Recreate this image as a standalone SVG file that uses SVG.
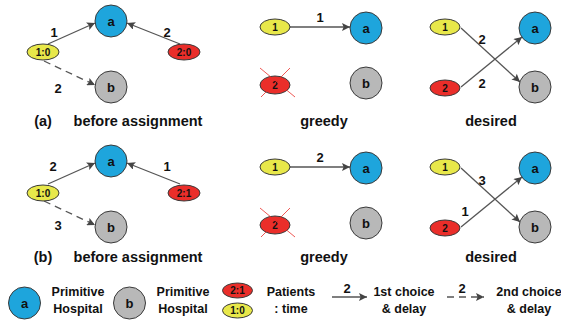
<svg xmlns="http://www.w3.org/2000/svg" width="561" height="324" viewBox="0 0 561 324">
<style>
text{font-family:"Liberation Sans",Arial,sans-serif;font-weight:bold;fill:#111;text-anchor:middle}
.na{fill:#1EA5DC;stroke:#3a3a3a;stroke-width:1}
.nb{fill:#B8B8B8;stroke:#3a3a3a;stroke-width:1}
.py{fill:#E8E84A;stroke:#3a3a3a;stroke-width:1}
.pr{fill:#EA2E2A;stroke:#3a3a3a;stroke-width:1}
.nl{font-size:13px}
.pl{font-size:10px}
.el{font-size:13px}
.cap{font-size:14.5px}
.lg{font-size:12.5px}
.e{stroke:#555;stroke-width:1.3;fill:none;marker-end:url(#ah)}
.d{stroke-dasharray:7,5}
.x{stroke:#EA2E2A;stroke-width:0.8}
</style>
<defs>
<marker id="ah" viewBox="0 0 10 10" refX="10" refY="5" markerWidth="9" markerHeight="8" markerUnits="userSpaceOnUse" orient="auto">
<path d="M0,0 L10,5 L0,10 L2,5 z" fill="#444"/>
</marker>
</defs>
<g id="connectors">
<line class="e" x1="48" y1="44" x2="95" y2="23"/>
<line class="e" x1="180" y1="44" x2="127" y2="23"/>
<line class="e d" x1="44" y1="61" x2="95" y2="85"/>
<line class="e" x1="290" y1="27" x2="350" y2="27"/>
<line class="e" x1="461" y1="28" x2="520" y2="82"/>
<line class="e" x1="461" y1="87" x2="522" y2="37"/>
<line class="e" x1="48" y1="184" x2="95" y2="163"/>
<line class="e" x1="180" y1="184" x2="127" y2="163"/>
<line class="e d" x1="44" y1="201" x2="95" y2="225"/>
<line class="e" x1="290" y1="167" x2="350" y2="167"/>
<line class="e" x1="461" y1="168" x2="520" y2="222"/>
<line class="e" x1="461" y1="227" x2="522" y2="177"/>
<line class="e" x1="332" y1="297" x2="367" y2="297"/>
<line class="e d" x1="447" y1="297" x2="484" y2="297"/>
</g>
<g id="edge-labels">
<text class="el" x="54" y="37">1</text>
<text class="el" x="167" y="37">2</text>
<text class="el" x="58" y="93">2</text>
<text class="el" x="320" y="22">1</text>
<text class="el" x="482" y="44">2</text>
<text class="el" x="482" y="88">2</text>
<text class="el" x="53" y="171">2</text>
<text class="el" x="167" y="171">1</text>
<text class="el" x="58" y="230">3</text>
<text class="el" x="320" y="162">2</text>
<text class="el" x="482" y="185">3</text>
<text class="el" x="465" y="216">1</text>
<text class="el" x="347" y="293">2</text>
<text class="el" x="462" y="293">2</text>
</g>
<g id="a-row-a"><circle class="na" cx="111" cy="21" r="16"/><text class="nl" x="111" y="25.5">a</text></g>
<g id="b-row-a"><circle class="nb" cx="111" cy="87" r="16"/><text class="nl" x="111" y="91.5">b</text></g>
<g id="p1-row-a"><ellipse class="py" cx="43" cy="52" rx="16" ry="8"/><text class="pl" x="43" y="55.5">1:0</text></g>
<g id="p2-row-a"><ellipse class="pr" cx="184" cy="52" rx="16" ry="8"/><text class="pl" x="184" y="55.5">2:0</text></g>
<g id="greedy-a-row-a"><circle class="na" cx="366" cy="28" r="16"/><text class="nl" x="366" y="32.5">a</text></g>
<g id="greedy-b-row-a"><circle class="nb" cx="366" cy="83" r="16"/><text class="nl" x="366" y="87.5">b</text></g>
<g id="greedy-p1-row-a"><ellipse class="py" cx="275" cy="27" rx="15" ry="8"/><text class="pl" x="275" y="30.5">1</text></g>
<g id="greedy-p2-row-a"><ellipse class="pr" cx="275" cy="85" rx="15" ry="9"/><text class="pl" x="275" y="88.5">2</text><line class="x" x1="260" y1="68" x2="295" y2="97"/><line class="x" x1="290" y1="68" x2="261" y2="97"/></g>
<g id="desired-a-row-a"><circle class="na" cx="535" cy="28" r="16"/><text class="nl" x="535" y="32.5">a</text></g>
<g id="desired-b-row-a"><circle class="nb" cx="535" cy="87" r="16"/><text class="nl" x="535" y="91.5">b</text></g>
<g id="desired-p1-row-a"><ellipse class="py" cx="445" cy="27" rx="15" ry="8"/><text class="pl" x="445" y="30.5">1</text></g>
<g id="desired-p2-row-a"><ellipse class="pr" cx="445" cy="88" rx="15" ry="8"/><text class="pl" x="445" y="91.5">2</text></g>
<g id="a-row-b"><circle class="na" cx="111" cy="161" r="16"/><text class="nl" x="111" y="165.5">a</text></g>
<g id="b-row-b"><circle class="nb" cx="111" cy="227" r="16"/><text class="nl" x="111" y="231.5">b</text></g>
<g id="p1-row-b"><ellipse class="py" cx="43" cy="193" rx="16" ry="8"/><text class="pl" x="43" y="196.5">1:0</text></g>
<g id="p2-row-b"><ellipse class="pr" cx="184" cy="193" rx="16" ry="8"/><text class="pl" x="184" y="196.5">2:1</text></g>
<g id="greedy-a-row-b"><circle class="na" cx="366" cy="168" r="16"/><text class="nl" x="366" y="172.5">a</text></g>
<g id="greedy-b-row-b"><circle class="nb" cx="366" cy="223" r="16"/><text class="nl" x="366" y="227.5">b</text></g>
<g id="greedy-p1-row-b"><ellipse class="py" cx="275" cy="167" rx="15" ry="8"/><text class="pl" x="275" y="170.5">1</text></g>
<g id="greedy-p2-row-b"><ellipse class="pr" cx="275" cy="225" rx="15" ry="9"/><text class="pl" x="275" y="228.5">2</text><line class="x" x1="260" y1="208" x2="295" y2="237"/><line class="x" x1="290" y1="208" x2="261" y2="237"/></g>
<g id="desired-a-row-b"><circle class="na" cx="535" cy="168" r="16"/><text class="nl" x="535" y="172.5">a</text></g>
<g id="desired-b-row-b"><circle class="nb" cx="535" cy="227" r="16"/><text class="nl" x="535" y="231.5">b</text></g>
<g id="desired-p1-row-b"><ellipse class="py" cx="445" cy="167" rx="15" ry="8"/><text class="pl" x="445" y="170.5">1</text></g>
<g id="desired-p2-row-b"><ellipse class="pr" cx="445" cy="228" rx="15" ry="8"/><text class="pl" x="445" y="231.5">2</text></g>
<g id="captions">
<text class="cap" x="43" y="126">(a)</text>
<text class="cap" x="138" y="126">before assignment</text>
<text class="cap" x="324" y="126">greedy</text>
<text class="cap" x="491" y="126">desired</text>
<text class="cap" x="43" y="262">(b)</text>
<text class="cap" x="138" y="262">before assignment</text>
<text class="cap" x="324" y="262">greedy</text>
<text class="cap" x="491" y="262">desired</text>
</g>
<g id="legend">
<circle class="na" cx="24.5" cy="303" r="16"/><text class="nl" x="24.5" y="307.5">a</text>
<text class="lg" x="78" y="296">Primitive</text><text class="lg" x="78" y="313">Hospital</text>
<circle class="nb" cx="129.5" cy="303" r="16"/><text class="nl" x="129.5" y="307.5">b</text>
<text class="lg" x="183" y="296">Primitive</text><text class="lg" x="183" y="313">Hospital</text>
<ellipse class="pr" cx="237.5" cy="290.5" rx="15" ry="7.5"/><text class="pl" x="237.5" y="294">2:1</text>
<ellipse class="py" cx="237.5" cy="310.5" rx="15" ry="7.5"/><text class="pl" x="237.5" y="314">1:0</text>
<text class="lg" x="291" y="296">Patients</text><text class="lg" x="291" y="313">: time</text>
<text class="lg" x="404" y="296">1st choice</text><text class="lg" x="404" y="313">&amp; delay</text>
<text class="lg" x="529" y="296">2nd choice</text><text class="lg" x="529" y="313">&amp; delay</text>
</g>
</svg>
